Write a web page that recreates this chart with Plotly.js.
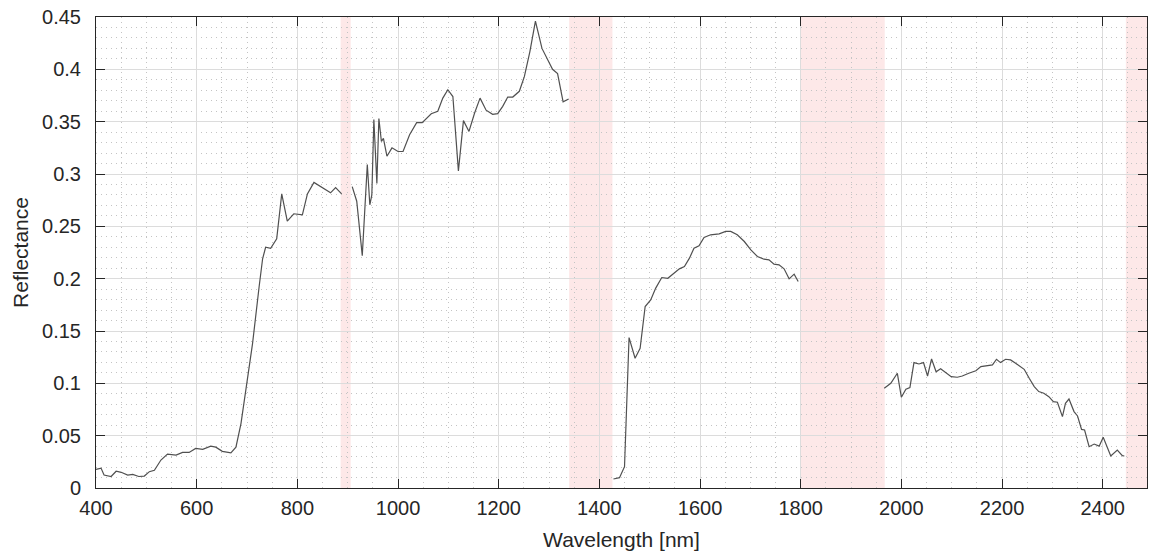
<!DOCTYPE html>
<html>
<head>
<meta charset="utf-8">
<script src="https://cdn.plot.ly/plotly-3.0.1.min.js"></script>
<style>html,body{margin:0;padding:0;background:#fff;}#chart{width:1149px;height:556px;}</style>
</head>
<body>
<div id="chart"></div>
<script>
// Wavelength [nm] (null = gap in data)
const wavelength = [
  400,410,416,430,440,450,463,473,485,496,506,516,529,542,559,572,585,598,612,628,638,651,668,678,688,698,711,724,731,737,747,759,769,780,793,810,820,833,850,866,876,888,
  null,
  909,918,929,939,944,948,952,958,962,967,971,978,988,1000,1010,1023,1037,1048,1066,1079,1089,1099,1109,1120,1130,1141,1152,1163,1175,1188,1198,1208,1218,1228,1241,1251,1262,1273,1286,1297,1307,1317,1328,1339,
  null,
  1428,1440,1450,1459,1471,1481,1491,1502,1512,1524,1536,1549,1559,1569,1579,1588,1598,1608,1621,1638,1651,1661,1674,1688,1701,1714,1727,1737,1747,1757,1767,1777,1787,1795,
  null,
  1966,1979,1992,2000,2009,2017,2025,2035,2044,2052,2060,2069,2078,2088,2099,2111,2121,2134,2148,2158,2171,2181,2189,2197,2207,2217,2227,2237,2244,2254,2264,2273,2283,2293,2302,2310,2320,2326,2333,2343,2350,2358,2364,2373,2383,2393,2401,2409,2416,2429,2439,2443
];
// Reflectance values
const reflectance = [
  0.0178,0.019,0.0124,0.011,0.016,0.015,0.0124,0.013,0.011,0.0114,0.0156,0.017,0.0267,0.0324,0.0314,0.034,0.034,0.0378,0.037,0.040,0.039,0.035,0.0336,0.039,0.0616,0.0965,0.138,0.192,0.219,0.230,0.229,0.238,0.281,0.255,0.262,0.261,0.281,0.292,0.287,0.282,0.287,0.281,
  null,
  0.288,0.274,0.222,0.309,0.2706,0.280,0.352,0.291,0.353,0.331,0.334,0.317,0.325,0.3215,0.3215,0.3375,0.349,0.349,0.3576,0.360,0.3725,0.3805,0.374,0.303,0.351,0.3407,0.358,0.3725,0.361,0.357,0.3576,0.3646,0.3735,0.3735,0.379,0.393,0.417,0.446,0.420,0.410,0.400,0.396,0.369,0.3716,
  null,
  0.0086,0.0099,0.0204,0.1437,0.124,0.1335,0.1734,0.1797,0.191,0.2011,0.2004,0.2052,0.2094,0.2116,0.2196,0.2291,0.2314,0.2393,0.2419,0.2428,0.2451,0.2451,0.2419,0.2355,0.2275,0.2212,0.2186,0.218,0.2138,0.2132,0.2094,0.1998,0.2043,0.1973,
  null,
  0.0953,0.100,0.1096,0.0867,0.0943,0.096,0.1198,0.1185,0.1198,0.107,0.1233,0.111,0.114,0.110,0.1064,0.1058,0.107,0.1096,0.112,0.116,0.1166,0.1176,0.123,0.1198,0.123,0.1224,0.1192,0.1154,0.1134,0.1048,0.0969,0.0921,0.0905,0.0873,0.0825,0.0819,0.0682,0.0809,0.085,0.073,0.0688,0.056,0.0554,0.0395,0.042,0.040,0.0484,0.0389,0.0306,0.0363,0.0309,0.0306
];
// Water absorption bands (start, end) in nm
const bandStart = [886, 1340, 1800, 2446];
const bandEnd   = [906, 1426, 1967, 2500];

const xTicks = [400,600,800,1000,1200,1400,1600,1800,2000,2200,2400];
const yTicks = [0,0.05,0.1,0.15,0.2,0.25,0.3,0.35,0.4,0.45];
const yTickText = ['0','0.05','0.1','0.15','0.2','0.25','0.3','0.35','0.4','0.45'];

const FONT = 'Liberation Sans, Arial, Helvetica, sans-serif';

const shapes = bandStart.map((s, i) => ({
  type: 'rect', xref: 'x', yref: 'paper',
  x0: s, x1: bandEnd[i], y0: 0, y1: 1,
  fillcolor: 'rgba(250,200,200,0.42)', line: {width: 0}, layer: 'below'
}));

const trace = {
  x: wavelength, y: reflectance, type: 'scatter', mode: 'lines',
  connectgaps: false,
  line: {color: '#505050', width: 1.2},
  hoverinfo: 'x+y'
};

const axisCommon = {
  showline: true, linecolor: '#262626', linewidth: 1, mirror: 'ticks',
  ticks: 'inside', ticklen: 9, tickcolor: '#262626', tickwidth: 1,
  showgrid: true, gridcolor: '#dcdcdc', gridwidth: 1, zeroline: false,
  automargin: false,
  tickfont: {family: FONT, size: 20, color: '#262626'}
};

const layout = {
  width: 1149, height: 556,
  margin: {l: 96, r: 2, t: 17, b: 68},
  paper_bgcolor: '#ffffff', plot_bgcolor: '#ffffff',
  showlegend: false,
  shapes: shapes,
  xaxis: Object.assign({}, axisCommon, {
    range: [400, 2488], tickmode: 'array', tickvals: xTicks,
    ticklabelstandoff: 2,
    minor: {dtick: 50, tick0: 400, showgrid: true, griddash: '1px,4px', gridcolor: '#c4c4c4', gridwidth: 1, ticks: ''},
    title: {text: 'Wavelength [nm]', standoff: 14, font: {family: FONT, size: 21, color: '#262626'}}
  }),
  yaxis: Object.assign({}, axisCommon, {
    range: [0, 0.45], tickmode: 'array', tickvals: yTicks, ticktext: yTickText,
    ticklabelstandoff: 10,
    minor: {dtick: 0.01, tick0: 0, showgrid: true, griddash: '1px,4px', gridcolor: '#c4c4c4', gridwidth: 1, ticks: ''},
    title: {text: 'Reflectance', standoff: 7, font: {family: FONT, size: 21, color: '#262626'}}
  })
};

Plotly.newPlot('chart', [trace], layout, {displayModeBar: false, staticPlot: true});
</script>
</body>
</html>
